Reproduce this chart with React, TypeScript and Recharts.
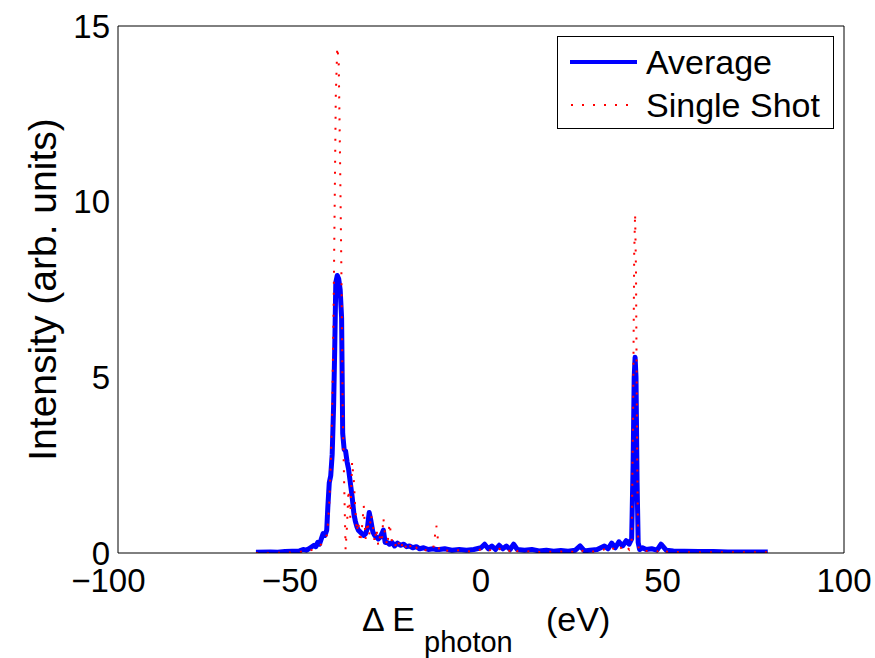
import { LineChart, Line, XAxis, YAxis, Legend } from 'recharts';

// photon energy offset (eV) and measured intensities
const energy = [
    -62, -58, -56, -54, -52, -50, -49, -48, -47, -46, -45.5, -45, -44.5, -44, -43.5, -43, -42.5, -42.2, -41.8, -41.4,
    -41.0, -40.6, -40.3, -40.0, -39.6, -39.2, -38.8, -38.4, -38.1, -37.7, -37.3, -36.9, -36.5, -36.0, -35.5, -35.0, -34.6, -34.2, -33.8, -33.3,
    -32.8, -32.3, -31.8, -31.3, -30.8, -30.3, -29.8, -29.3, -28.8, -28.3, -27.8, -27.3, -26.9, -26.4, -25.8, -25.2, -24.5, -23.8, -23.0, -22.2,
    -21.3, -20.5, -19.7, -18.8, -17.8, -16.9, -15.8, -14.5, -13.2, -12.3, -11.5, -10, -8, -6, -4, -2, 0, 1, 2, 3,
    4, 5, 6, 7, 8, 9, 10, 12, 14, 16, 18, 20, 22, 24, 26, 27.3, 28.5, 30, 32, 34,
    35, 36, 37, 38, 39, 40, 40.8, 41.5, 41.9, 42.2, 42.45, 42.7, 43.0, 43.3, 43.7, 44.5, 45.5, 47, 48.5, 49.6,
    51, 53, 56, 60, 64, 68, 72, 75, 79,
];

const average = [
    0.02, 0.03, 0.02, 0.04, 0.05, 0.06, 0.10, 0.08, 0.15, 0.22, 0.18, 0.30, 0.25, 0.40, 0.55, 0.50, 0.65, 1.30, 2.00, 2.20,
    2.80, 4.20, 5.80, 7.70, 7.90, 7.80, 7.50, 6.70, 3.40, 2.95, 2.90, 2.60, 2.40, 2.00, 1.60, 1.10, 0.90, 0.75, 0.65, 0.60,
    0.55, 0.50, 0.55, 0.70, 1.15, 0.90, 0.60, 0.50, 0.45, 0.40, 0.45, 0.55, 0.65, 0.30, 0.30, 0.25, 0.30, 0.20, 0.28, 0.22,
    0.25, 0.18, 0.20, 0.15, 0.18, 0.12, 0.15, 0.10, 0.12, 0.10, 0.10, 0.12, 0.08, 0.10, 0.08, 0.10, 0.15, 0.25, 0.12, 0.20,
    0.10, 0.22, 0.12, 0.20, 0.10, 0.25, 0.10, 0.08, 0.10, 0.06, 0.08, 0.05, 0.07, 0.05, 0.08, 0.20, 0.06, 0.08, 0.10, 0.20,
    0.12, 0.28, 0.15, 0.32, 0.20, 0.35, 0.25, 0.40, 2.50, 5.00, 5.57, 5.00, 2.00, 0.30, 0.10, 0.15, 0.10, 0.12, 0.08, 0.25,
    0.08, 0.06, 0.05, 0.04, 0.04, 0.03, 0.03, 0.03, 0.03,
];

const singleShot = [
    0.00, 0.00, 0.01, 0.00, 0.02, 0.03, 0.05, 0.04, 0.08, 0.10, 0.12, 0.15, 0.20, 0.25, 0.35, 0.40, 0.50, 0.80, 1.40, 2.50,
    4.00, 7.00, 10.00, 13.00, 14.40, 14.00, 11.00, 7.50, 4.00, 2.00, 0.10, 0.80, 1.80, 1.00, 2.60, 2.00, 1.20, 0.60, 0.90, 0.30,
    0.70, 1.35, 0.40, 0.90, 0.50, 1.10, 0.80, 0.30, 0.70, 0.20, 0.50, 0.35, 1.00, 0.50, 0.20, 0.85, 0.30, 0.15, 0.40, 0.10,
    0.35, 0.10, 0.25, 0.05, 0.15, 0.05, 0.10, 0.05, 0.10, 0.78, 0.05, 0.08, 0.05, 0.08, 0.04, 0.06, 0.10, 0.12, 0.06, 0.10,
    0.05, 0.12, 0.05, 0.10, 0.05, 0.15, 0.05, 0.04, 0.05, 0.03, 0.04, 0.03, 0.04, 0.03, 0.04, 0.10, 0.03, 0.04, 0.05, 0.10,
    0.06, 0.15, 0.08, 0.20, 0.10, 0.20, 0.10, 0.30, 4.00, 8.50, 9.66, 8.00, 3.00, 0.20, 0.05, 0.05, 0.06, 0.05, 0.04, 0.12,
    0.04, 0.03, 0.02, 0.02, 0.02, 0.02, 0.02, 0.02, 0.02,
];

const xTicks = [-100, -50, 0, 50, 100];
const yTicks = [0, 5, 10, 15];

const data = energy.map((e, i) => ({ e, avg: average[i], single: singleShot[i] }));

const FONT = '"Liberation Sans", Arial, Helvetica, sans-serif';
const TICK_FS = 33;

// matlab centres the digits and hangs the minus sign to the left
const XTick = (props: any) => {
    const { x, y, payload } = props;
    const v = payload.value as number;
    const digits = String(Math.abs(v));
    const w = digits.length * 0.556 * TICK_FS;
    return (
        <g>
            <text x={x} y={y} dy="0.71em" textAnchor="middle" fontSize={TICK_FS} fontFamily={FONT} fill="#000">{digits}</text>
            {v < 0 && (
                <text x={x - w / 2} y={y} dy="0.71em" textAnchor="end" fontSize={TICK_FS} fontFamily={FONT} fill="#000">−</text>
            )}
        </g>
    );
};

const XLabel = (props: any) => {
    const { viewBox } = props;
    const cx = viewBox.x + viewBox.width / 2;
    const base = viewBox.y + 78;
    return (
        <text y={base} fontFamily={FONT} fill="#000" fontSize={34}>
            <tspan x={cx - 119}>Δ E</tspan>
            <tspan x={cx - 57} dy={21} fontSize={29}>photon</tspan>
            <tspan x={cx + 65} dy={-21}>(eV)</tspan>
        </text>
    );
};

const YLabel = (props: any) => {
    const { viewBox } = props;
    const cy = viewBox.y + viewBox.height / 2;
    const x = 56;
    return (
        <text x={x} y={cy} transform={`rotate(-90 ${x} ${cy})`} textAnchor="middle" fontSize={39} fontFamily={FONT} fill="#000">
            Intensity (arb. units)
        </text>
    );
};

const LegendBox = () => (
    <svg width={277} height={93} style={{ display: 'block' }}>
        <rect x={0.5} y={0.5} width={276} height={92} fill="#fff" stroke="#000" strokeWidth={1} />
        <line x1={13} x2={80} y1={26} y2={26} stroke="#0000ff" strokeWidth={4} />
        <text x={89} y={38} fontSize={34} fontFamily={FONT} fill="#000">Average</text>
        <line x1={14} x2={76} y1={69} y2={69} stroke="#ff0000" strokeWidth={2} strokeDasharray="2 9" />
        <text x={89} y={81} fontSize={34} fontFamily={FONT} fill="#000">Single Shot</text>
    </svg>
);

const axisLine = { stroke: '#000', strokeWidth: 1 };

export default function App() {
    return (
        <div style={{ position: 'absolute', left: 0, top: 0, background: '#fff' }}>
            <LineChart width={875} height={658} data={data} margin={{ top: 26, right: 31, left: 58, bottom: 45 }}>
                <XAxis
                    xAxisId="x"
                    dataKey="e"
                    type="number"
                    domain={[-100, 100]}
                    ticks={xTicks}
                    allowDataOverflow
                    height={60}
                    axisLine={axisLine}
                    tickLine={false}
                    tickSize={0}
                    tickMargin={16}
                    tick={<XTick />}
                    interval={0}
                    label={<XLabel />}
                />
                <XAxis xAxisId="xb" type="number" domain={[-100, 100]} ticks={xTicks} allowDataOverflow mirror orientation="bottom"
                    axisLine={false} tickLine={{ stroke: '#000' }} tickSize={8} tick={false} interval={0} />
                <XAxis xAxisId="xt" type="number" domain={[-100, 100]} ticks={xTicks} allowDataOverflow mirror orientation="top"
                    axisLine={axisLine} tickLine={{ stroke: '#000' }} tickSize={8} tick={false} interval={0} />
                <YAxis
                    yAxisId="y"
                    type="number"
                    domain={[0, 15]}
                    ticks={yTicks}
                    allowDataOverflow
                    width={60}
                    axisLine={axisLine}
                    tickLine={false}
                    tickSize={0}
                    tickMargin={8}
                    interval={0}
                    tick={{ fontSize: TICK_FS, fontFamily: FONT, fill: '#000' }}
                    label={<YLabel />}
                />
                <YAxis yAxisId="yl" type="number" domain={[0, 15]} ticks={yTicks} allowDataOverflow mirror orientation="left"
                    axisLine={false} tickLine={{ stroke: '#000' }} tickSize={8} tick={false} interval={0} />
                <YAxis yAxisId="yr" type="number" domain={[0, 15]} ticks={yTicks} allowDataOverflow mirror orientation="right"
                    axisLine={axisLine} tickLine={{ stroke: '#000' }} tickSize={8} tick={false} interval={0} />
                <Legend
                    layout="vertical"
                    align="center"
                    verticalAlign="middle"
                    content={<LegendBox />}
                    wrapperStyle={{ left: 557, top: 36, width: 277, height: 93 }}
                />
                <Line
                    xAxisId="x"
                    yAxisId="y"
                    type="linear"
                    dataKey="avg"
                    name="Average"
                    stroke="#0000ff"
                    strokeWidth={5}
                    strokeLinejoin="round"
                    dot={false}
                    isAnimationActive={false}
                />
                <Line
                    xAxisId="x"
                    yAxisId="y"
                    type="linear"
                    dataKey="single"
                    name="Single Shot"
                    stroke="#ff0000"
                    strokeWidth={2}
                    strokeDasharray="2 9"
                    dot={false}
                    isAnimationActive={false}
                />
            </LineChart>
        </div>
    );
}
